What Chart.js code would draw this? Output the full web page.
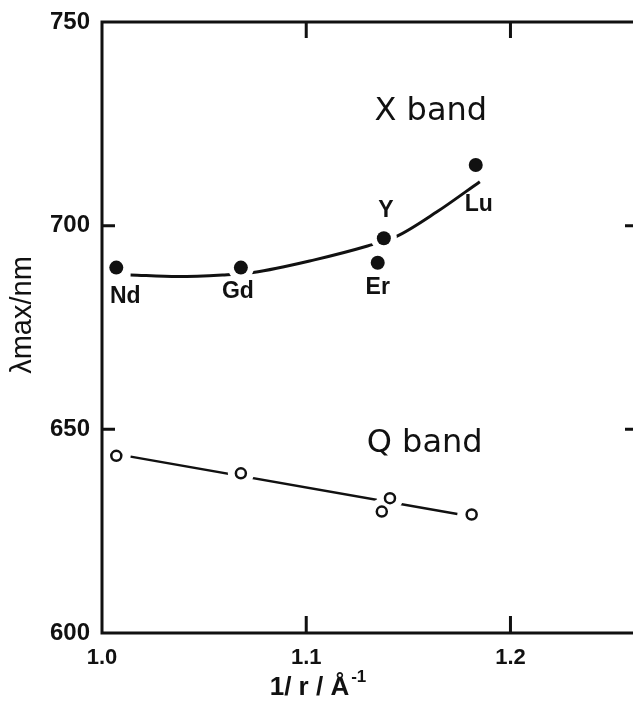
<!DOCTYPE html>
<html>
<head>
<meta charset="utf-8">
<script src="https://cdn.jsdelivr.net/npm/chart.js@4/dist/chart.umd.min.js"></script>
<style>
  html, body { margin: 0; padding: 0; background: #fff; overflow: hidden; }
  #wrap { width: 633px; height: 702px; position: relative; }
  canvas { display: block; }
</style>
</head>
<body>
<div id="wrap"><canvas id="chart"></canvas></div>
<script>
// values
const elements = ['Nd', 'Gd', 'Er', 'Y', 'Lu']
const xBandX = [1.007, 1.068, 1.135, 1.138, 1.183]
const xBandY = [689.7, 689.7, 690.9, 696.9, 714.9]
const qBandX = [1.007, 1.068, 1.137, 1.141, 1.181]
const qBandY = [643.5, 639.2, 629.8, 633.1, 629.1]
const xFitX = [1.014, 1.037, 1.059, 1.074, 1.104, 1.130, 1.144, 1.164, 1.185]
const xFitY = [687.9, 687.5, 687.9, 688.5, 691.6, 695.0, 697.3, 703.4, 710.8]
const qFitX = [1.014, 1.174]
const qFitY = [643.3, 629.2]
const xTicks = [1.0, 1.1, 1.2]
const xTickLabels = ['1.0', '1.1', '1.2']
const yTicks = [600, 650, 700, 750]
const yTickLabels = ['600', '650', '700', '750']
const bandNames = ['X band', 'Q band']
const bandX = [1.161, 1.158]
const bandY = [727.9, 646.4]

const ink = '#111'
const pts = (xs, ys) => xs.map((x, i) => ({ x, y: ys[i] }))

// where each element name sits relative to its X band dot
const labelShift = { Nd: [9, 29], Gd: [-3, 24], Er: [0, 25], Y: [2, -28], Lu: [3, 40] }

// white disc under the markers so the fitted lines break around them
const halo = {
  id: 'halo',
  beforeDatasetDraw (chart, args) {
    const ds = chart.data.datasets[args.index]
    if (!ds.halo) return
    const ctx = chart.ctx
    ctx.save()
    ctx.fillStyle = '#fff'
    args.meta.data.forEach(p => {
      ctx.beginPath()
      ctx.arc(p.x, p.y, ds.halo, 0, Math.PI * 2)
      ctx.fill()
    })
    ctx.restore()
  }
}

const frame = {
  id: 'frame',
  afterDraw (chart) {
    const { ctx, chartArea: a } = chart
    const sx = chart.scales.x
    const sy = chart.scales.y
    ctx.save()
    ctx.strokeStyle = ink
    ctx.lineWidth = 3
    ctx.lineCap = 'square'
    ctx.beginPath()
    ctx.moveTo(a.right + 2, a.top)
    ctx.lineTo(a.left, a.top)
    ctx.lineTo(a.left, a.bottom)
    ctx.lineTo(a.right + 2, a.bottom)
    ctx.stroke()

    ctx.lineCap = 'butt'
    ctx.beginPath()
    ;[650, 700].forEach(v => {
      const y = sy.getPixelForValue(v)
      ctx.moveTo(a.left, y); ctx.lineTo(a.left + 13, y)
      ctx.moveTo(a.right, y); ctx.lineTo(a.right - 8, y)
    })
    ;[1.1, 1.2].forEach(v => {
      const x = sx.getPixelForValue(v)
      ctx.moveTo(x, a.bottom); ctx.lineTo(x, a.bottom - 17)
      ctx.moveTo(x, a.top); ctx.lineTo(x, a.top + 16)
    })
    ctx.stroke()

    ctx.fillStyle = ink
    ctx.textAlign = 'center'
    ctx.textBaseline = 'middle'

    // element names beside the X band dots
    ctx.font = 'bold 23px "Liberation Sans", Arial, sans-serif'
    elements.forEach((name, i) => {
      const [dx, dy] = labelShift[name]
      ctx.fillText(name, sx.getPixelForValue(xBandX[i]) + dx, sy.getPixelForValue(xBandY[i]) + dy)
    })

    ctx.font = '32px "DejaVu Sans", sans-serif'
    bandNames.forEach((t, i) => {
      ctx.fillText(t, sx.getPixelForValue(bandX[i]), sy.getPixelForValue(bandY[i]))
    })

    // y title
    ctx.save()
    ctx.translate(23, 315)
    ctx.rotate(-Math.PI / 2)
    ctx.font = '29px "Liberation Sans", Arial, sans-serif'
    ctx.fillText('λmax/nm', 0, 0)
    ctx.restore()

    // x title with superscript
    ctx.textAlign = 'left'
    ctx.textBaseline = 'alphabetic'
    ctx.font = 'bold 26px "Liberation Sans", Arial, sans-serif'
    const main = '1/ r / Å'
    const w = ctx.measureText(main).width
    ctx.font = 'bold 17px "Liberation Sans", Arial, sans-serif'
    const sw = ctx.measureText('-1').width
    const x0 = 318 - (w + sw + 2) / 2
    ctx.font = 'bold 26px "Liberation Sans", Arial, sans-serif'
    ctx.fillText(main, x0, 695)
    ctx.font = 'bold 17px "Liberation Sans", Arial, sans-serif'
    ctx.fillText('-1', x0 + w + 2, 682)
    ctx.restore()
  }
}

new Chart(document.getElementById('chart'), {
  type: 'scatter',
  data: {
    datasets: [
      {
        label: 'X band fit',
        data: pts(xFitX, xFitY),
        showLine: true,
        borderColor: ink,
        borderWidth: 3,
        pointRadius: 0,
        cubicInterpolationMode: 'monotone',
        order: 3
      },
      {
        label: 'Q band fit',
        data: pts(qFitX, qFitY),
        showLine: true,
        borderColor: ink,
        borderWidth: 2.5,
        pointRadius: 0,
        order: 3
      },
      {
        label: 'X band',
        data: pts(xBandX, xBandY),
        pointRadius: 7,
        pointBackgroundColor: ink,
        pointBorderWidth: 0,
        halo: 13,
        order: 1
      },
      {
        label: 'Q band',
        data: pts(qBandX, qBandY),
        pointRadius: 5,
        pointBackgroundColor: '#fff',
        pointBorderColor: ink,
        pointBorderWidth: 2.5,
        halo: 13,
        order: 1
      }
    ]
  },
  options: {
    responsive: true,
    maintainAspectRatio: false,
    animation: false,
    events: [],
    layout: { autoPadding: false, padding: { top: 22, right: 0, left: 0, bottom: 0 } },
    plugins: { legend: { display: false }, tooltip: { enabled: false } },
    scales: {
      x: {
        type: 'linear',
        min: 1.0,
        max: 1.26,
        grid: { display: false },
        border: { display: false },
        afterBuildTicks: s => { s.ticks = xTicks.map(v => ({ value: v })) },
        afterFit: s => { s.height = 69 },
        ticks: {
          color: ink,
          padding: 4,
          maxRotation: 0,
          font: { family: '"Liberation Sans", Arial, sans-serif', size: 22, weight: 'bold' },
          callback: (v, i) => xTickLabels[i]
        }
      },
      y: {
        min: 600,
        max: 750,
        grid: { display: false },
        border: { display: false },
        afterBuildTicks: s => { s.ticks = yTicks.map(v => ({ value: v })) },
        afterFit: s => { s.width = 102 },
        ticks: {
          color: ink,
          padding: 4,
          font: { family: '"Liberation Sans", Arial, sans-serif', size: 24, weight: 'bold' },
          callback: (v, i) => yTickLabels[i]
        }
      }
    }
  },
  plugins: [halo, frame]
})
</script>
</body>
</html>
